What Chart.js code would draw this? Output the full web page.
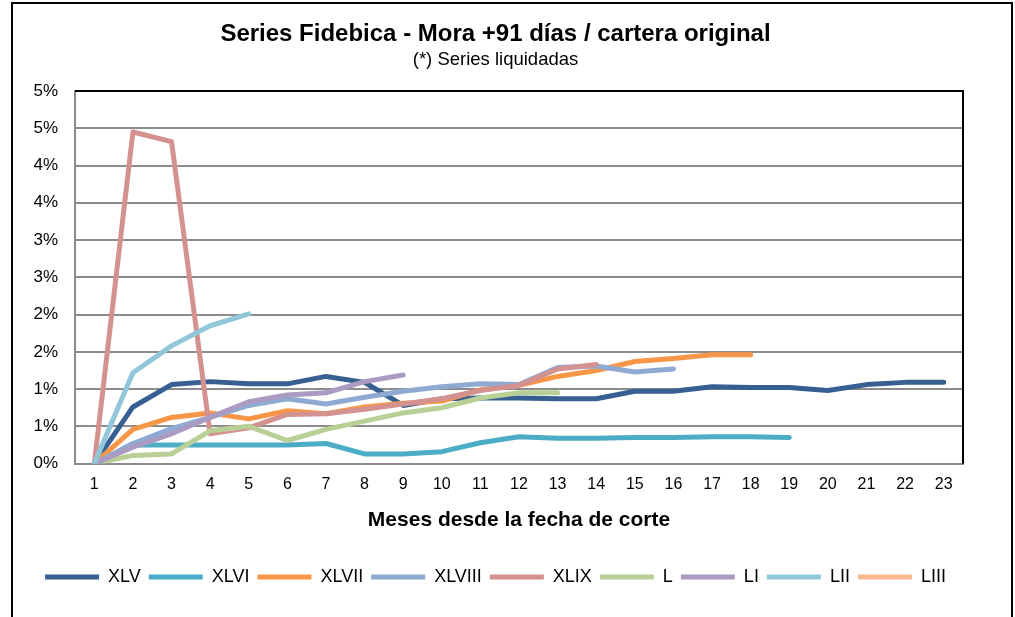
<!DOCTYPE html>
<html>
<head>
<meta charset="utf-8">
<script src="https://cdn.jsdelivr.net/npm/chart.js@4/dist/chart.umd.min.js"></script>
<style>
html,body{margin:0;padding:0;background:#fff;}
#wrap{position:relative;width:1015px;height:617px;}
</style>
</head>
<body>
<div id="wrap"><canvas id="c" width="1015" height="617"></canvas></div>
<script>
const categories = ['1','2','3','4','5','6','7','8','9','10','11','12','13','14','15','16','17','18','19','20','21','22','23'];
const seriesNames = ['XLV','XLVI','XLVII','XLVIII','XLIX','L','LI','LII','LIII'];
const XLV    = [0, 0.76, 1.06, 1.10, 1.07, 1.07, 1.17, 1.09, 0.78, 0.87, 0.88, 0.88, 0.87, 0.87, 0.97, 0.97, 1.03, 1.02, 1.02, 0.98, 1.06, 1.09, 1.09];
const XLVI   = [0, 0.25, 0.25, 0.25, 0.25, 0.25, 0.27, 0.13, 0.13, 0.16, 0.28, 0.36, 0.34, 0.34, 0.35, 0.35, 0.36, 0.36, 0.35];
const XLVII  = [0, 0.46, 0.62, 0.68, 0.60, 0.71, 0.67, 0.76, 0.81, 0.84, 0.99, 1.05, 1.17, 1.25, 1.37, 1.41, 1.46, 1.46];
const XLVIII = [0, 0.27, 0.47, 0.62, 0.78, 0.87, 0.80, 0.89, 0.97, 1.03, 1.07, 1.06, 1.29, 1.31, 1.23, 1.27];
const XLIX   = [0, 4.45, 4.32, 0.40, 0.48, 0.66, 0.67, 0.73, 0.80, 0.87, 0.98, 1.05, 1.27, 1.33];
const L      = [0, 0.11, 0.13, 0.44, 0.50, 0.31, 0.46, 0.57, 0.68, 0.75, 0.88, 0.95, 0.95];
const LI     = [0, 0.22, 0.40, 0.62, 0.83, 0.92, 0.95, 1.10, 1.19];
const LII    = [0, 1.22, 1.58, 1.85, 2.01];
const LIII   = [];
const yTicks = [0, 0.5, 1, 1.5, 2, 2.5, 3, 3.5, 4, 4.5, 5];

const seriesData = [XLV, XLVI, XLVII, XLVIII, XLIX, L, LI, LII, LIII];
const colors = ['#375F91','#4BACC6','#F79646','#8FAAD2','#D39190','#B8CF95','#AA9BC2','#92C7DA','#F9B98F'];
const FONT = "'Liberation Sans', Arial, sans-serif";

const frame = {
  id: 'frame',
  afterDraw(chart) {
    const ctx = chart.ctx, a = chart.chartArea;
    ctx.save();
    ctx.strokeStyle = '#000';
    ctx.lineWidth = 2;
    ctx.beginPath();
    ctx.moveTo(a.left, a.top);
    ctx.lineTo(a.right, a.top);
    ctx.lineTo(a.right, a.bottom);
    ctx.stroke();
    ctx.strokeRect(12, 3, 1000, 620);
    ctx.restore();
  }
};

new Chart(document.getElementById('c'), {
  type: 'line',
  data: {
    labels: categories,
    datasets: seriesNames.map((n, i) => ({
      label: n,
      data: seriesData[i],
      borderColor: colors[i],
      backgroundColor: colors[i],
      borderWidth: 5,
      borderCapStyle: 'round',
      borderJoinStyle: 'round',
      pointRadius: 0,
      tension: 0,
      fill: false,
      order: seriesNames.length - i
    }))
  },
  options: {
    responsive: false,
    animation: false,
    layout: { padding: { left: 28, right: 52, top: 0, bottom: 21 } },
    plugins: {
      title: {
        display: true,
        text: 'Series Fidebica - Mora +91 días / cartera original',
        color: '#000',
        font: { family: FONT, size: 24, weight: 'bold' },
        padding: { top: 20, bottom: 0 }
      },
      subtitle: {
        display: true,
        text: '(*) Series liquidadas',
        color: '#000',
        font: { family: FONT, size: 18.5 },
        padding: { top: 0, bottom: 20 }
      },
      legend: {
        position: 'bottom',
        labels: {
          usePointStyle: true,
          pointStyle: 'line',
          pointStyleWidth: 54,
          boxHeight: 5,
          padding: 8,
          color: '#000',
          font: { family: FONT, size: 18 },
          sort: (a, b) => a.datasetIndex - b.datasetIndex
        }
      },
      tooltip: { enabled: false }
    },
    scales: {
      x: {
        offset: true,
        grid: { display: false, drawTicks: false },
        border: { display: true, color: '#8c8c8c', width: 2 },
        ticks: { color: '#000', font: { family: FONT, size: 16 }, padding: 11, maxRotation: 0, autoSkip: false },
        title: {
          display: true,
          text: 'Meses desde la fecha de corte',
          color: '#000',
          font: { family: FONT, size: 21, weight: 'bold' },
          padding: { top: 3, bottom: 27 }
        }
      },
      y: {
        min: 0,
        max: 5,
        afterFit(scale) { scale.width = 47; },
        afterBuildTicks(scale) { scale.ticks = yTicks.map(v => ({ value: v })); },
        grid: { color: '#8c8c8c', lineWidth: 2, drawTicks: false },
        border: { display: true, color: '#8c8c8c', width: 2 },
        ticks: {
          color: '#000',
          font: { family: FONT, size: 17 },
          padding: 17,
          callback: v => Math.round(v) + '%'
        }
      }
    }
  },
  plugins: [frame]
});
</script>
</body>
</html>
